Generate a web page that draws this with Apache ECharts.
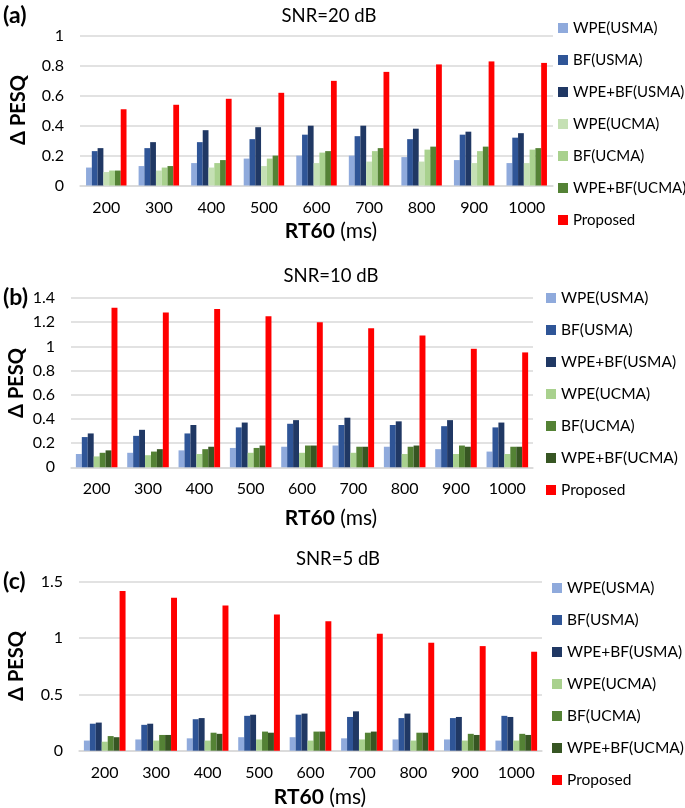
<!DOCTYPE html>
<html>
<head>
<meta charset="utf-8">
<script src="https://cdn.jsdelivr.net/npm/echarts@6/dist/echarts.min.js"></script>
<style>
html,body{margin:0;padding:0;background:#fff;}
#chart{width:685px;height:808px;}
</style>
</head>
<body>
<div id="chart"></div>
<script>
// ---- Data ----
const categories = ['200','300','400','500','600','700','800','900','1000'];
const seriesNames = ['WPE(USMA)','BF(USMA)','WPE+BF(USMA)','WPE(UCMA)','BF(UCMA)','WPE+BF(UCMA)','Proposed'];
const panelTitles = ['SNR=20 dB','SNR=10 dB','SNR=5 dB'];
const panelLetters = ['(a)','(b)','(c)'];
const yTicksA = [0, 1, 0.2];
const yTicksB = [0, 1.4, 0.2];
const yTicksC = [0, 1.5, 0.5];

// (a) SNR = 20 dB
const snr20_wpeUSMA   = [0.12,0.13,0.15,0.18,0.20,0.20,0.19,0.17,0.15];
const snr20_bfUSMA    = [0.23,0.25,0.29,0.31,0.34,0.33,0.31,0.34,0.32];
const snr20_wpebfUSMA = [0.25,0.29,0.37,0.39,0.40,0.40,0.38,0.36,0.35];
const snr20_wpeUCMA   = [0.09,0.10,0.12,0.13,0.15,0.16,0.16,0.15,0.15];
const snr20_bfUCMA    = [0.10,0.12,0.15,0.18,0.22,0.23,0.24,0.23,0.24];
const snr20_wpebfUCMA = [0.10,0.13,0.17,0.20,0.23,0.25,0.26,0.26,0.25];
const snr20_proposed  = [0.51,0.54,0.58,0.62,0.70,0.76,0.81,0.83,0.82];

// (b) SNR = 10 dB
const snr10_wpeUSMA   = [0.11,0.12,0.14,0.16,0.17,0.18,0.17,0.15,0.13];
const snr10_bfUSMA    = [0.25,0.26,0.28,0.33,0.36,0.35,0.35,0.34,0.33];
const snr10_wpebfUSMA = [0.28,0.31,0.35,0.37,0.39,0.41,0.38,0.39,0.37];
const snr10_wpeUCMA   = [0.09,0.10,0.11,0.12,0.12,0.12,0.11,0.11,0.11];
const snr10_bfUCMA    = [0.12,0.13,0.15,0.16,0.18,0.17,0.17,0.18,0.17];
const snr10_wpebfUCMA = [0.14,0.15,0.17,0.18,0.18,0.17,0.18,0.17,0.17];
const snr10_proposed  = [1.32,1.28,1.31,1.25,1.20,1.15,1.09,0.98,0.95];

// (c) SNR = 5 dB
const snr5_wpeUSMA   = [0.09,0.10,0.11,0.12,0.12,0.11,0.10,0.10,0.09];
const snr5_bfUSMA    = [0.24,0.23,0.28,0.31,0.32,0.30,0.29,0.29,0.31];
const snr5_wpebfUSMA = [0.25,0.24,0.29,0.32,0.33,0.35,0.33,0.30,0.30];
const snr5_wpeUCMA   = [0.08,0.09,0.09,0.10,0.09,0.10,0.09,0.09,0.09];
const snr5_bfUCMA    = [0.13,0.14,0.16,0.17,0.17,0.16,0.16,0.15,0.15];
const snr5_wpebfUCMA = [0.12,0.14,0.15,0.16,0.17,0.17,0.16,0.14,0.14];
const snr5_proposed  = [1.42,1.36,1.29,1.21,1.15,1.04,0.96,0.93,0.88];

// ---- Styling ----
const colorsA = ['#8faadc','#2f5597','#203864','#c5e0b4','#a9d18e','#548235','#ff0000'];
const colorsBC = ['#8faadc','#2f5597','#203864','#a9d18e','#548235','#375623','#ff0000'];
const FONT = 'Lato, "Open Sans", sans-serif';

const panels = [
  {data:[snr20_wpeUSMA,snr20_bfUSMA,snr20_wpebfUSMA,snr20_wpeUCMA,snr20_bfUCMA,snr20_wpebfUCMA,snr20_proposed],
   colors:colorsA, ticks:yTicksA,
   grid:{left:80, width:473, top:36, height:149.5},
   legend:{left:558, top:20, fs:15},
   title:{x:329, y:16}, xname:{x:331, y:231}, yname:{x:19, y:110}, letter:{x:3, y:16}, bcg:'23%'},
  {data:[snr10_wpeUSMA,snr10_bfUSMA,snr10_wpebfUSMA,snr10_wpeUCMA,snr10_bfUCMA,snr10_wpebfUCMA,snr10_proposed],
   colors:colorsBC, ticks:yTicksB,
   grid:{left:71, width:462, top:298, height:169.3},
   legend:{left:546, top:290, fs:15.5},
   title:{x:331, y:276}, xname:{x:331, y:518}, yname:{x:17, y:383}, letter:{x:3, y:298}, bcg:'19%'},
  {data:[snr5_wpeUSMA,snr5_bfUSMA,snr5_wpebfUSMA,snr5_wpeUCMA,snr5_bfUCMA,snr5_wpebfUCMA,snr5_proposed],
   colors:colorsBC, ticks:yTicksC,
   grid:{left:79, width:463, top:582, height:168.7},
   legend:{left:552, top:580, fs:15.5},
   title:{x:338, y:559}, xname:{x:320, y:797}, yname:{x:17, y:666}, letter:{x:3, y:582}, bcg:'19%'}
];

const grid = [], xAxis = [], yAxis = [], series = [], legend = [], graphic = [];
panels.forEach((p, i) => {
  grid.push(Object.assign({containLabel:false}, p.grid));
  xAxis.push({
    type:'category', gridIndex:i, data:categories,
    axisLine:{show:true, lineStyle:{color:'#d9d9d9', width:1.5}},
    axisTick:{show:false},
    axisLabel:{color:'#000', fontFamily:FONT, fontSize:16, margin:14}
  });
  yAxis.push({
    type:'value', gridIndex:i, min:p.ticks[0], max:p.ticks[1], interval:p.ticks[2],
    axisLine:{show:false}, axisTick:{show:false},
    splitLine:{show:true, lineStyle:{color:'#d9d9d9', width:1.5}},
    axisLabel:{color:'#000', fontFamily:FONT, fontSize:16, margin:16}
  });
  p.data.forEach((d, k) => {
    series.push({
      type:'bar', name:seriesNames[k], xAxisIndex:i, yAxisIndex:i, data:d,
      barGap:'0%', barCategoryGap:p.bcg,
      itemStyle:{color:p.colors[k]}, emphasis:{disabled:true}, animation:false
    });
  });
  legend.push({
    orient:'vertical', left:p.legend.left, top:p.legend.top, padding:0,
    icon:'rect', itemWidth:10, itemHeight:10, itemGap:16,
    selectedMode:false,
    textStyle:{color:'#000', fontFamily:FONT, fontSize:p.legend.fs, lineHeight:16},
    data: seriesNames.map((n, k) => ({name:n, itemStyle:{color:p.colors[k]}}))
  });
  graphic.push({type:'text', x:p.title.x, y:p.title.y,
    style:{text:panelTitles[i], font:'18.5px '+FONT, fill:'#000', align:'center', verticalAlign:'middle'}});
  graphic.push({type:'text', x:p.xname.x, y:p.xname.y,
    style:{text:'{b|RT60} (ms)', font:'21px '+FONT, fill:'#000', align:'center', verticalAlign:'middle',
      rich:{b:{fontWeight:'bold', fontSize:21, fontFamily:FONT, fill:'#000'}}}});
  graphic.push({type:'text', x:p.yname.x, y:p.yname.y, rotation:Math.PI/2,
    style:{text:'Δ PESQ', font:'bold 20px '+FONT, fill:'#000', align:'center', verticalAlign:'middle'}});
  graphic.push({type:'text', x:p.letter.x, y:p.letter.y,
    style:{text:panelLetters[i], font:'bold 23px '+FONT, fill:'#000', align:'left', verticalAlign:'middle'}});
});

const chart = echarts.init(document.getElementById('chart'), null, {renderer:'canvas'});
chart.setOption({
  animation:false, backgroundColor:'#fff',
  grid, xAxis, yAxis, series, legend, graphic
});
</script>
</body>
</html>
